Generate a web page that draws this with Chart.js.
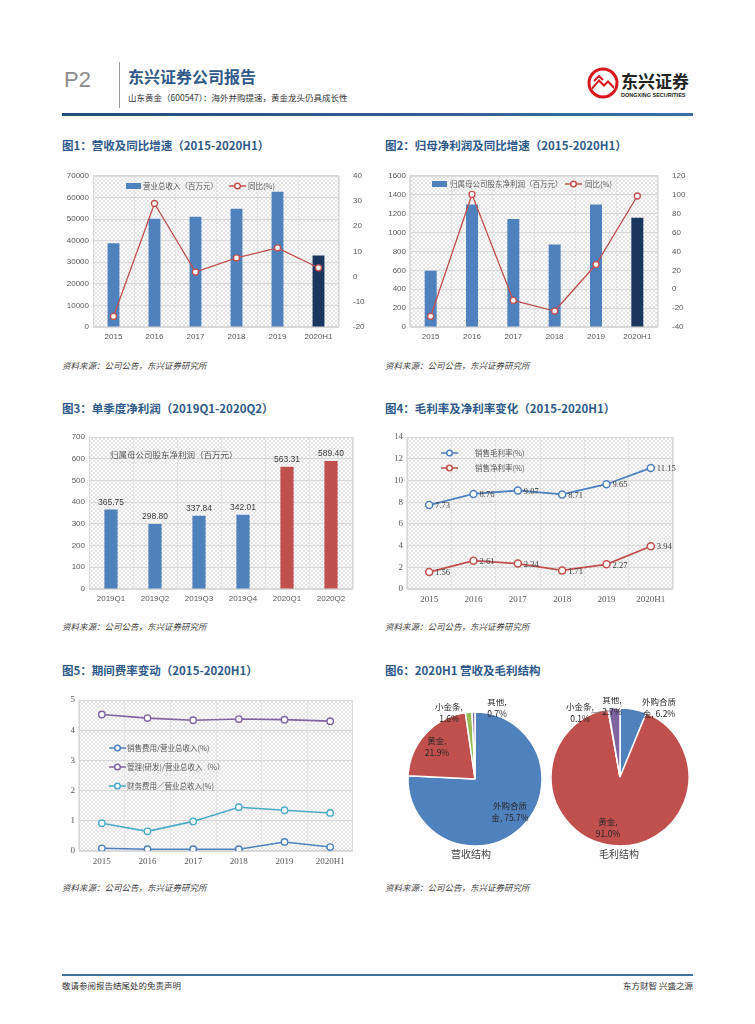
<!DOCTYPE html>
<html>
<head>
<meta charset="utf-8">
<script src="https://cdn.jsdelivr.net/npm/chart.js@4.4.1/dist/chart.umd.min.js"></script>
<style>
body{margin:0;background:#fff;width:755px;height:1024px;position:relative;overflow:hidden;font-family:"Noto Sans CJK SC","Noto Sans",sans-serif;}
.abs{position:absolute;white-space:nowrap;line-height:1;}
.fig{font-size:11.5px;font-weight:bold;color:#2f5a8a;}
.src{font-size:8.5px;color:#404040;font-style:italic;}
.cap{font-size:10px;color:#404040;transform:translateX(-50%);}
canvas{position:absolute;}
</style>
</head>
<body>
<div class="abs" style="left:64px;top:69px;font-size:22px;color:#8c8c8c;font-family:'Liberation Sans',sans-serif;">P2</div>
<div class="abs" style="left:119px;top:62px;width:1px;height:46px;background:#9a9a9a;"></div>
<div class="abs" style="left:128px;top:68px;font-size:16px;font-weight:bold;color:#2f5a8a;">东兴证券公司报告</div>
<div class="abs" style="left:128px;top:93px;font-size:8.5px;color:#333;">山东黄金（600547）：海外并购提速，黄金龙头仍具成长性</div>
<svg class="abs" style="left:587px;top:67px;" width="32" height="32" viewBox="0 0 32 32">
  <circle cx="16" cy="16" r="14" fill="#fff" stroke="#d7191f" stroke-width="3"/>
  <path d="M5 20 L12 12 L17 17 L21 13 L27 19 L27 22 L21 16 L17 20 L12 15 L5 23 Z" fill="#d7191f"/>
  <path d="M7 14 L12 9 L16 13" fill="none" stroke="#d7191f" stroke-width="2"/>
</svg>
<div class="abs" style="left:621px;top:72px;font-size:17px;font-weight:bold;color:#222;">东兴证券</div>
<div class="abs" style="left:621px;top:93px;font-size:5.5px;font-weight:bold;color:#222;font-family:'Liberation Sans',sans-serif;">DONGXING SECURITIES</div>
<div class="abs" style="left:62px;top:113px;width:631px;height:3px;background:linear-gradient(90deg,#1f4e79,#3d6fa3);"></div>

<div class="abs fig" style="left:62px;top:140px;">图1：营收及同比增速（2015-2020H1）</div>
<div class="abs fig" style="left:385px;top:140px;">图2：归母净利润及同比增速（2015-2020H1）</div>
<div class="abs src" style="left:62px;top:361px;">资料来源：公司公告，东兴证券研究所</div>
<div class="abs src" style="left:385px;top:361px;">资料来源：公司公告，东兴证券研究所</div>

<div class="abs fig" style="left:62px;top:403px;">图3：单季度净利润（2019Q1-2020Q2）</div>
<div class="abs fig" style="left:385px;top:403px;">图4：毛利率及净利率变化（2015-2020H1）</div>
<div class="abs src" style="left:62px;top:622px;">资料来源：公司公告，东兴证券研究所</div>
<div class="abs src" style="left:385px;top:622px;">资料来源：公司公告，东兴证券研究所</div>

<div class="abs fig" style="left:62px;top:665px;">图5：期间费率变动（2015-2020H1）</div>
<div class="abs fig" style="left:385px;top:665px;">图6：2020H1 营收及毛利结构</div>
<div class="abs src" style="left:62px;top:883px;">资料来源：公司公告，东兴证券研究所</div>
<div class="abs src" style="left:385px;top:883px;">资料来源：公司公告，东兴证券研究所</div>

<div class="abs" style="left:62px;top:974px;width:631px;height:2px;background:#3d6fa3;"></div>
<div class="abs" style="left:62px;top:981px;font-size:8.5px;color:#333;">敬请参阅报告结尾处的免责声明</div>
<div class="abs" style="right:62px;top:981px;font-size:8.5px;color:#333;">东方财智 兴盛之源</div>

<canvas id="c1" width="315" height="185" style="left:60px;top:165px;"></canvas>
<canvas id="c2" width="330" height="185" style="left:380px;top:165px;"></canvas>
<canvas id="c3" width="315" height="185" style="left:60px;top:427px;"></canvas>
<canvas id="c4" width="330" height="185" style="left:380px;top:427px;"></canvas>
<canvas id="c5" width="315" height="185" style="left:60px;top:690px;"></canvas>
<canvas id="c6" width="180" height="160" style="left:385px;top:699px;"></canvas>
<canvas id="c7" width="180" height="160" style="left:530px;top:697px;"></canvas>
<div class="abs cap" style="left:471px;top:849px;">营收结构</div>
<div class="abs cap" style="left:619px;top:849px;">毛利结构</div>

<script>
const years = ['2015', '2016', '2017', '2018', '2019', '2020H1'];
const revenue = [38770, 50150, 51080, 54770, 62600, 33080];
const revenueYoy = [-15.8, 29.0, 1.8, 7.4, 11.4, 3.5];
const netProfit = [594, 1297, 1143, 872, 1297, 1157];
const netProfitYoy = [-28.7, 100.3, -11.9, -23.1, 26.1, 98.6];
const quarters = ['2019Q1', '2019Q2', '2019Q3', '2019Q4', '2020Q1', '2020Q2'];
const quarterProfit = [365.75, 298.80, 337.84, 342.01, 563.31, 589.40];
const grossMargin = [7.73, 8.76, 9.07, 8.71, 9.65, 11.15];
const netMargin = [1.56, 2.61, 2.34, 1.71, 2.27, 3.94];
const sellingRate = [0.09, 0.06, 0.06, 0.06, 0.30, 0.13];
const adminRate = [4.52, 4.40, 4.33, 4.37, 4.35, 4.30];
const financeRate = [0.92, 0.65, 0.98, 1.45, 1.35, 1.26];
const mixLabels = ['外购合质金', '黄金', '小金条', '其他'];
const revenueMix = [75.7, 21.9, 1.6, 0.7];
const grossMix = [6.2, 91.0, 0.1, 2.7];

const BLUE = '#4f81bd', NAVY = '#1b365d', RED = '#c0504d', GREEN = '#9bbb59', PURPLE = '#8064a2', CYAN = '#4bacc6';
const tickColor = '#595959';
const sansTick = {family: 'Liberation Sans', size: 8};
const serifTick = {family: 'Liberation Serif', size: 9};
const cjk = '"Noto Sans CJK SC", sans-serif';

// light crosshatch used behind every plot area
const tile = document.createElement('canvas');
tile.width = 4; tile.height = 4;
const tctx = tile.getContext('2d');
tctx.fillStyle = '#fff'; tctx.fillRect(0, 0, 4, 4);
tctx.fillStyle = '#e4e4e4';
for (let i = 0; i < 4; i++) { tctx.fillRect(i, i, 1, 1); tctx.fillRect(3 - i, i, 1, 1); }

const plotBg = {
    id: 'plotBg',
    beforeDraw(chart) {
        const a = chart.chartArea, ctx = chart.ctx;
        ctx.save();
        ctx.fillStyle = ctx.createPattern(tile, 'repeat');
        ctx.fillRect(a.left, a.top, a.right - a.left, a.bottom - a.top);
        ctx.restore();
    },
    beforeDatasetsDraw(chart) {
        const a = chart.chartArea, ctx = chart.ctx;
        ctx.save();
        ctx.strokeStyle = '#d9d9d9'; ctx.lineWidth = 1;
        ctx.strokeRect(a.left + 0.5, a.top + 0.5, a.right - a.left - 1, a.bottom - a.top - 1);
        ctx.restore();
    }
};

function inLegend(items) {
    return {
        id: 'inLegend',
        afterDraw(chart) {
            const ctx = chart.ctx;
            ctx.save();
            ctx.textBaseline = 'middle';
            items.forEach(it => {
                if (it.kind === 'bar') {
                    ctx.fillStyle = it.color;
                    ctx.fillRect(it.x, it.y - 3, 15, 6);
                } else if (it.kind === 'line') {
                    ctx.strokeStyle = it.color; ctx.lineWidth = 1.5;
                    ctx.beginPath(); ctx.moveTo(it.x, it.y); ctx.lineTo(it.x + 17, it.y); ctx.stroke();
                    ctx.fillStyle = '#fff';
                    ctx.beginPath(); ctx.arc(it.x + 8.5, it.y, 2.8, 0, Math.PI * 2); ctx.fill(); ctx.stroke();
                }
                ctx.font = (it.size || 7.5) + 'px ' + cjk;
                ctx.fillStyle = '#595959';
                ctx.fillText(it.text, it.tx, it.y);
            });
            ctx.restore();
        }
    };
}

function valueLabels(where, decimals) {
    return {
        id: 'valueLabels',
        afterDatasetsDraw(chart) {
            const ctx = chart.ctx;
            ctx.save();
            ctx.fillStyle = '#404040';
            chart.data.datasets.forEach((ds, di) => {
                chart.getDatasetMeta(di).data.forEach((el, i) => {
                    const txt = ds.data[i].toFixed(decimals);
                    if (where === 'top') {
                        ctx.font = '8.5px "Liberation Sans"';
                        ctx.textAlign = 'center'; ctx.textBaseline = 'bottom';
                        ctx.fillText(txt, el.x, el.y - 3);
                    } else {
                        ctx.font = '8.5px "Liberation Serif"';
                        ctx.textAlign = 'left'; ctx.textBaseline = 'middle';
                        ctx.fillText(txt, el.x + 6, el.y + 1);
                    }
                });
            });
            ctx.restore();
        }
    };
}

// labels for the pie slices, placed relative to the pie centre
function pieLabels(spots, leader) {
    return {
        id: 'pieLabels',
        afterDraw(chart) {
            const ctx = chart.ctx;
            const arc = chart.getDatasetMeta(0).data[0];
            const cx = arc.x, cy = arc.y;
            const ds = chart.data.datasets[0];
            ctx.save();
            ctx.font = '8.5px ' + cjk;
            ctx.fillStyle = '#262626';
            ctx.textAlign = 'center'; ctx.textBaseline = 'middle';
            spots.forEach((s, i) => {
                const name = chart.data.labels[i];
                const pct = ds.data[i].toFixed(1) + '%';
                let l1, l2;
                if (name.length > 4) { l1 = name.slice(0, 4); l2 = name.slice(4) + ', ' + pct; }
                else { l1 = name + ','; l2 = pct; }
                ctx.fillText(l1, cx + s[0], cy + s[1] - 6);
                ctx.fillText(l2, cx + s[0], cy + s[1] + 6);
            });
            if (leader) {
                ctx.strokeStyle = '#7f7f7f'; ctx.lineWidth = 0.8;
                ctx.beginPath();
                ctx.moveTo(cx + leader[0], cy + leader[1]);
                ctx.lineTo(cx + leader[2], cy + leader[3]);
                ctx.stroke();
            }
            ctx.restore();
        }
    };
}

function xAxis(font) {
    return {
        offset: true,
        grid: {display: true, offset: true, color: '#e6e6e6', drawTicks: false},
        border: {display: false},
        ticks: {font: font, color: tickColor, padding: 5, maxRotation: 0, autoSkip: false},
        afterFit: s => { s.height = 23; }
    };
}

function yAxis(min, max, step, width, font, right) {
    return {
        position: right ? 'right' : 'left',
        min: min, max: max,
        grid: right ? {display: false} : {color: '#d9d9d9', drawTicks: false},
        border: {display: false},
        ticks: {stepSize: step, font: font, color: tickColor, padding: right ? 6 : 4,
                callback: v => String(v)},
        afterFit: s => { s.width = width; }
    };
}

const common = {
    responsive: false,
    animation: false,
    devicePixelRatio: 1,
    events: []
};

// Figure 1
new Chart(document.getElementById('c1'), {
    type: 'bar',
    data: {
        labels: years,
        datasets: [
            {type: 'line', label: '同比(%)', data: revenueYoy, yAxisID: 'y1', borderColor: RED, borderWidth: 1.3,
             pointRadius: 3, pointBackgroundColor: '#fff', pointBorderColor: RED, pointBorderWidth: 1.3, order: 0},
            {label: '营业总收入（百万元）', data: revenue, yAxisID: 'y',
             backgroundColor: [BLUE, BLUE, BLUE, BLUE, BLUE, NAVY], categoryPercentage: 1, barPercentage: 0.29, order: 1}
        ]
    },
    options: Object.assign({}, common, {
        layout: {padding: {top: 10}},
        plugins: {legend: {display: false}, tooltip: {enabled: false}},
        scales: {
            x: xAxis(sansTick),
            y: yAxis(0, 70000, 10000, 33, sansTick, false),
            y1: yAxis(-20, 40, 10, 36, sansTick, true)
        }
    }),
    plugins: [plotBg, inLegend([
        {kind: 'bar', color: BLUE, x: 66, y: 21, tx: 83, text: '营业总收入（百万元）'},
        {kind: 'line', color: RED, x: 169, y: 21, tx: 188, text: '同比(%)'}
    ])]
});

// Figure 2
new Chart(document.getElementById('c2'), {
    type: 'bar',
    data: {
        labels: years,
        datasets: [
            {type: 'line', label: '同比(%)', data: netProfitYoy, yAxisID: 'y1', borderColor: RED, borderWidth: 1.3,
             pointRadius: 3, pointBackgroundColor: '#fff', pointBorderColor: RED, pointBorderWidth: 1.3, order: 0},
            {label: '归属母公司股东净利润（百万元）', data: netProfit, yAxisID: 'y',
             backgroundColor: [BLUE, BLUE, BLUE, BLUE, BLUE, NAVY], categoryPercentage: 1, barPercentage: 0.29, order: 1}
        ]
    },
    options: Object.assign({}, common, {
        layout: {padding: {top: 10}},
        plugins: {legend: {display: false}, tooltip: {enabled: false}},
        scales: {
            x: xAxis(sansTick),
            y: yAxis(0, 1600, 200, 30, sansTick, false),
            y1: yAxis(-40, 120, 20, 52, sansTick, true)
        }
    }),
    plugins: [plotBg, inLegend([
        {kind: 'bar', color: BLUE, x: 52, y: 19, tx: 70, text: '归属母公司股东净利润（百万元）'},
        {kind: 'line', color: RED, x: 185, y: 19, tx: 205, text: '同比(%)'}
    ])]
});

// Figure 3
new Chart(document.getElementById('c3'), {
    type: 'bar',
    data: {
        labels: quarters,
        datasets: [
            {label: '归属母公司股东净利润（百万元）', data: quarterProfit,
             backgroundColor: [BLUE, BLUE, BLUE, BLUE, RED, RED], categoryPercentage: 1, barPercentage: 0.3}
        ]
    },
    options: Object.assign({}, common, {
        layout: {padding: {top: 10, right: 22}},
        plugins: {legend: {display: false}, tooltip: {enabled: false}},
        scales: {
            x: xAxis(sansTick),
            y: yAxis(0, 700, 100, 29, sansTick, false)
        }
    }),
    plugins: [plotBg, valueLabels('top', 2), inLegend([
        {kind: 'none', x: 0, y: 28, tx: 50, size: 8.5, text: '归属母公司股东净利润（百万元）'}
    ])]
});

// Figure 4
new Chart(document.getElementById('c4'), {
    type: 'line',
    data: {
        labels: years,
        datasets: [
            {label: '销售毛利率(%)', data: grossMargin, borderColor: BLUE, borderWidth: 1.8,
             pointRadius: 3.5, pointBackgroundColor: '#fff', pointBorderColor: BLUE, pointBorderWidth: 1.5},
            {label: '销售净利率(%)', data: netMargin, borderColor: RED, borderWidth: 1.8,
             pointRadius: 3.5, pointBackgroundColor: '#fff', pointBorderColor: RED, pointBorderWidth: 1.5}
        ]
    },
    options: Object.assign({}, common, {
        layout: {padding: {top: 10, right: 37}},
        plugins: {legend: {display: false}, tooltip: {enabled: false}},
        scales: {
            x: xAxis(serifTick),
            y: yAxis(0, 14, 2, 27, serifTick, false)
        }
    }),
    plugins: [plotBg, valueLabels('right', 2), inLegend([
        {kind: 'line', color: BLUE, x: 61, y: 26, tx: 95, text: '销售毛利率(%)'},
        {kind: 'line', color: RED, x: 61, y: 41, tx: 95, text: '销售净利率(%)'}
    ])]
});

// Figure 5
new Chart(document.getElementById('c5'), {
    type: 'line',
    data: {
        labels: years,
        datasets: [
            {label: '销售费用/营业总收入(%)', data: sellingRate, borderColor: BLUE, borderWidth: 1.6,
             pointRadius: 3.2, pointBackgroundColor: '#fff', pointBorderColor: BLUE, pointBorderWidth: 1.4},
            {label: '管理(研发)/营业总收入（%）', data: adminRate, borderColor: PURPLE, borderWidth: 1.6,
             pointRadius: 3.2, pointBackgroundColor: '#fff', pointBorderColor: PURPLE, pointBorderWidth: 1.4},
            {label: '财务费用／营业总收入(%)', data: financeRate, borderColor: CYAN, borderWidth: 1.6,
             pointRadius: 3.2, pointBackgroundColor: '#fff', pointBorderColor: CYAN, pointBorderWidth: 1.4}
        ]
    },
    options: Object.assign({}, common, {
        layout: {padding: {top: 10, right: 22}},
        plugins: {legend: {display: false}, tooltip: {enabled: false}},
        scales: {
            x: Object.assign(xAxis(serifTick), {afterFit: s => { s.height = 24; }}),
            y: yAxis(0, 5, 1, 19, serifTick, false)
        }
    }),
    plugins: [plotBg, inLegend([
        {kind: 'line', color: BLUE, x: 49, y: 58, tx: 67, text: '销售费用/营业总收入(%)'},
        {kind: 'line', color: PURPLE, x: 49, y: 77, tx: 67, text: '管理(研发)/营业总收入（%）'},
        {kind: 'line', color: CYAN, x: 49, y: 96, tx: 67, text: '财务费用／营业总收入(%)'}
    ])]
});

// Figure 6
const pieColors = [BLUE, RED, GREEN, PURPLE];
new Chart(document.getElementById('c6'), {
    type: 'pie',
    data: {labels: mixLabels, datasets: [{data: revenueMix, backgroundColor: pieColors, borderColor: '#fff', borderWidth: 1.5, radius: 67}]},
    options: Object.assign({}, common, {plugins: {legend: {display: false}, tooltip: {enabled: false}}}),
    plugins: [pieLabels([[35, 33], [-38, -32], [-26, -66], [22, -71]])]
});
new Chart(document.getElementById('c7'), {
    type: 'pie',
    data: {labels: mixLabels, datasets: [{data: grossMix, backgroundColor: pieColors, borderColor: '#fff', borderWidth: 1.5, radius: 69}]},
    options: Object.assign({}, common, {plugins: {legend: {display: false}, tooltip: {enabled: false}}}),
    plugins: [pieLabels([[39, -69], [-12, 51], [-40, -64], [-8, -71]], [-29, -64, -10, -66])]
});
</script>
</body>
</html>
